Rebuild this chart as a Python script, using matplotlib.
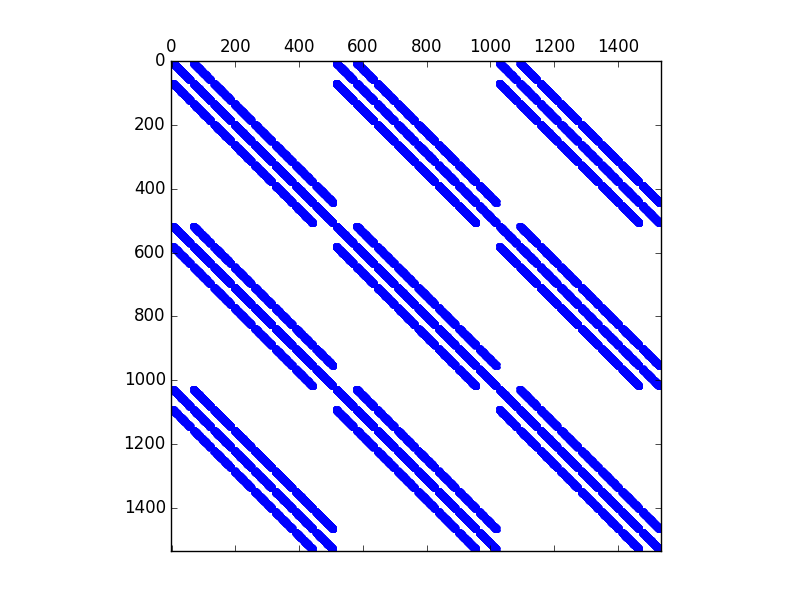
import numpy as np
import matplotlib
matplotlib.use("Agg")
import matplotlib.pyplot as plt

plt.style.use('classic')

# Structure of the matrix: 3 x 3 blocks, each block a 27-point stencil
# on an 8 x 8 x 8 grid (512 unknowns per field)
n_fields = 3
grid = [8, 8, 8]
steps = [-1, 0, 1]


# Build the sparsity pattern of one block
def stencil_block(grid, steps):
    nx, ny, nz = grid
    size = nx * ny * nz
    block = np.zeros((size, size), dtype=bool)
    for k in range(nz):
        for j in range(ny):
            for i in range(nx):
                row = i + nx * j + nx * ny * k
                for dk in steps:
                    for dj in steps:
                        for di in steps:
                            ii, jj, kk = i + di, j + dj, k + dk
                            if 0 <= ii < nx and 0 <= jj < ny and 0 <= kk < nz:
                                block[row, ii + nx * jj + nx * ny * kk] = True
    return block


block = stencil_block(grid, steps)
M = np.tile(block, (n_fields, n_fields))

fig = plt.figure(figsize=(8.12, 6.12), dpi=100)
ax = fig.add_subplot(111)
ax.spy(M, marker='o', markersize=2.5, color='blue', markeredgecolor='blue')
ax.set_xticks([0, 200, 400, 600, 800, 1000, 1200, 1400])
ax.set_yticks([0, 200, 400, 600, 800, 1000, 1200, 1400])

fig.savefig('out.png', dpi=100)
